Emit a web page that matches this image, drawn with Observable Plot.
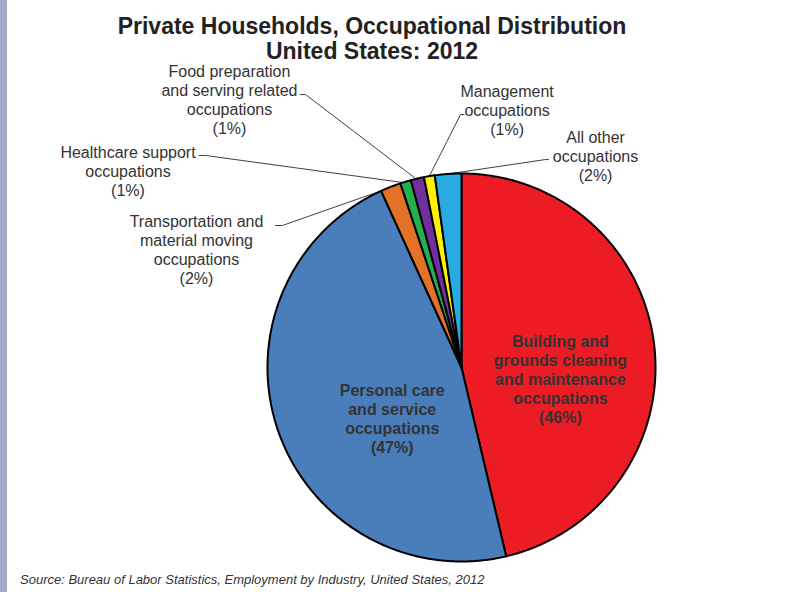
<!DOCTYPE html>
<html>
<head>
<meta charset="utf-8">
<script src="https://cdn.jsdelivr.net/npm/d3@7"></script>
<script src="https://cdn.jsdelivr.net/npm/@observablehq/plot@0.6"></script>
<style>
  html, body { margin: 0; padding: 0; background: #fff; }
  body { width: 811px; height: 592px; overflow: hidden; position: relative;
         font-family: "Liberation Sans", Arial, sans-serif; }
  #strip { position: absolute; left: 0; top: 0; width: 7px; height: 592px;
           background: #a8aaca; z-index: 2; }
  #title { position: absolute; left: 0; top: 0; width: 744px; padding-top: 14px;
           text-align: center; font-size: 23px; line-height: 25px; font-weight: bold;
           color: #222; }
  #chart { position: absolute; left: 0; top: 68px; }
  #chart svg { overflow: visible; }
  #caption { position: absolute; left: 20px; top: 573px; font-size: 13px;
             line-height: 13px; font-style: italic; color: #333; white-space: nowrap; }
</style>
</head>
<body>
<div id="strip"></div>
<div id="title">Private Households, Occupational Distribution<br>United States: 2012</div>
<div id="chart"></div>
<div id="caption">Source: Bureau of Labor Statistics, Employment by Industry, United States, 2012</div>
<script>
// Occupation groups, clockwise from 12 o'clock
const labelLines = [
  ["Building and", "grounds cleaning", "and maintenance", "occupations"],
  ["Personal care", "and service", "occupations"],
  ["Transportation and", "material moving", "occupations"],
  ["Healthcare support", "occupations"],
  ["Food preparation", "and serving related", "occupations"],
  ["Management", "occupations"],
  ["All other", "occupations"]
];
const categories = labelLines.map(l => l.join(" "));
// Share of private-household employment (percent)
const shares = [46.3, 46.9, 1.7, 0.9, 1.1, 0.9, 2.2];
const colors = ["#ed1c24", "#4a7ebb", "#e37128", "#22b14c", "#7030a0", "#fff200", "#29abe2"];

// Label layout, in units of the pie radius relative to its centre (y up)
const labelPos = [
  [0.510, -0.058], [-0.357, -0.261], [-1.366, 0.609], [-1.719, 1.012],
  [-1.196, 1.380], [0.235, 1.326], [0.691, 1.090]
];
const insideLabel = [true, true, false, false, false, false, false];
// Leader lines: start at the label, short elbow, then to a point on the slice rim
const leaderStart = [null, null, [-0.959, 0.732], [-1.353, 1.093], [-0.832, 1.407], [0.013, 1.304], [0.448, 1.072]];
const leaderElbow = [null, null, [-0.923, 0.732], [-1.320, 1.093], [-0.804, 1.407], [-0.005, 1.304], [0.433, 1.072]];
const leaderAt = [0.5, 0.5, 0.05, 0.25, 0.4, 0.5, 0.5];

// Pie geometry on the page
const W = 811, H = 500;
const cx = 461, cy = 299, R = 194;

const total = d3.sum(shares);
let acc = 0;
const slices = categories.map((name, i) => {
  const a0 = acc / total * 2 * Math.PI;
  acc += shares[i];
  const a1 = acc / total * 2 * Math.PI;
  return {name, a0, a1, i};
});

const slicePts = slices.flatMap(s => {
  const n = Math.max(2, Math.ceil((s.a1 - s.a0) / (Math.PI / 360)));
  const pts = [{name: s.name, x: 0, y: 0}];
  for (let k = 0; k <= n; ++k) {
    const a = s.a0 + (s.a1 - s.a0) * k / n;
    pts.push({name: s.name, x: Math.sin(a), y: Math.cos(a)});
  }
  pts.push({name: s.name, x: 0, y: 0});
  return pts;
});

const labels = slices.map(s => ({
  name: s.name,
  x: labelPos[s.i][0],
  y: labelPos[s.i][1],
  inside: insideLabel[s.i],
  text: [...labelLines[s.i], `(${Math.round(shares[s.i])}%)`].join("\n")
}));

const leaders = slices.filter(s => leaderStart[s.i]).flatMap(s => {
  const a = s.a0 + (s.a1 - s.a0) * leaderAt[s.i];
  return [
    {name: s.name, x: leaderStart[s.i][0], y: leaderStart[s.i][1]},
    {name: s.name, x: leaderElbow[s.i][0], y: leaderElbow[s.i][1]},
    {name: s.name, x: Math.sin(a), y: Math.cos(a)}
  ];
});

const chart = Plot.plot({
  width: W,
  height: H,
  margin: 0,
  style: {fontFamily: "'Liberation Sans', Arial, sans-serif", background: "transparent", overflow: "visible"},
  x: {domain: [-cx / R, (W - cx) / R], axis: null},
  y: {domain: [-(H - cy) / R, cy / R], axis: null},
  color: {domain: categories, range: colors},
  marks: [
    Plot.line(leaders, {x: "x", y: "y", z: "name", stroke: "#404040", strokeWidth: 1}),
    Plot.line(slicePts, {
      x: "x", y: "y", z: "name", fill: "name",
      stroke: "#000", strokeWidth: 2, strokeLinejoin: "round"
    }),
    Plot.text(labels.filter(d => !d.inside), {
      x: "x", y: "y", text: "text", fontSize: 16, lineHeight: 1.19,
      lineAnchor: "middle", fill: "#333"
    }),
    Plot.text(labels.filter(d => d.inside), {
      x: "x", y: "y", text: "text", fontSize: 16, lineHeight: 1.19,
      lineAnchor: "middle", fontWeight: "bold", fill: "#333"
    })
  ]
});
document.getElementById("chart").appendChild(chart);
</script>
</body>
</html>
